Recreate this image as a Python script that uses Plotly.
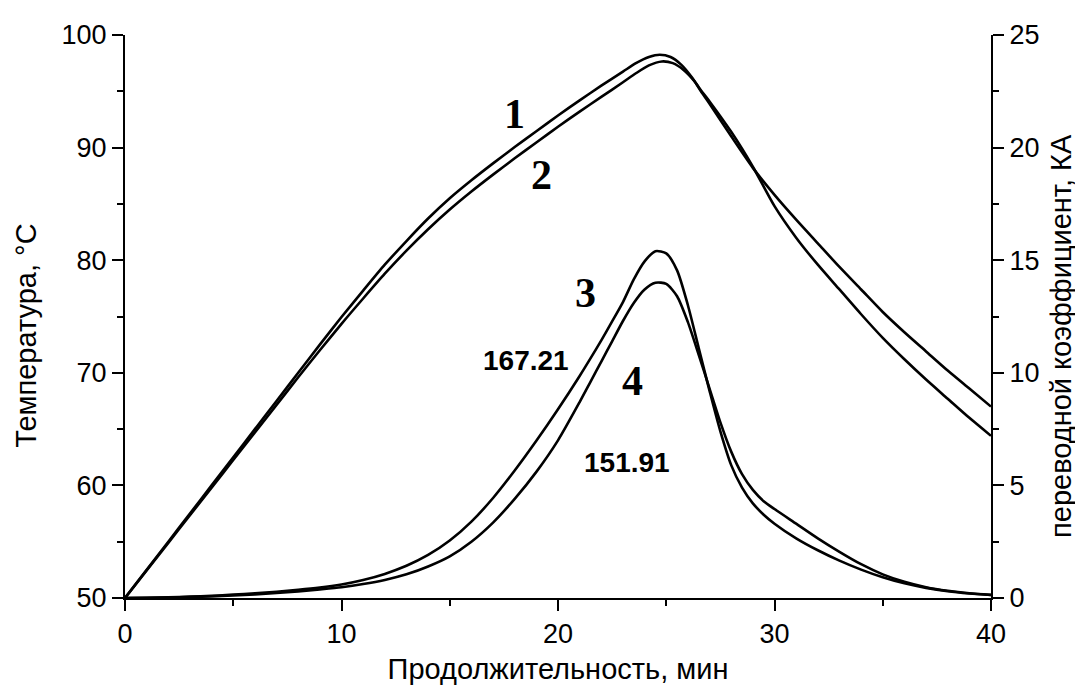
import plotly.graph_objects as go

# ---- data ----
t1 = [0, 1, 2, 3, 4, 5, 6, 7, 8, 9, 10, 11, 12, 13, 14, 15, 16, 17, 18, 19, 20, 21, 22, 23,
      23.6, 24.2, 24.7, 25.2, 25.7, 26.2, 26.6, 27, 28, 29, 30, 31, 32, 33, 34, 35, 36, 37, 38, 39, 40]
temp1 = [50.0, 52.5, 55.0, 57.5, 60.0, 62.5, 65.0, 67.5, 70.0, 72.5, 74.95, 77.3, 79.6, 81.7, 83.7,
         85.5, 87.1, 88.6, 90.05, 91.45, 92.85, 94.2, 95.5, 96.75, 97.5, 98.05, 98.25, 98.05, 97.35,
         96.2, 95.0, 93.9, 91.0, 88.2, 85.8, 83.6, 81.5, 79.4, 77.4, 75.4, 73.6, 71.9, 70.2, 68.6, 67.0]

t2 = [0, 1, 2, 3, 4, 5, 6, 7, 8, 9, 10, 11, 12, 13, 14, 15, 16, 17, 18, 19, 20, 21, 22, 23,
      23.6, 24.2, 24.8, 25.3, 25.8, 26.3, 26.6, 27, 28, 29, 30, 31, 32, 33, 34, 35, 36, 37, 38, 39, 40]
temp2 = [50.0, 52.45, 54.9, 57.35, 59.8, 62.25, 64.7, 67.15, 69.6, 72.0, 74.35, 76.6, 78.8, 80.85,
         82.75, 84.5, 86.1, 87.6, 89.05, 90.45, 91.85, 93.2, 94.5, 95.8, 96.6, 97.3, 97.65, 97.5,
         96.9, 95.9, 95.1, 94.1, 91.4, 88.3, 84.8, 82.0, 79.6, 77.4, 75.2, 73.1, 71.2, 69.4, 67.7,
         66.0, 64.4]

t3 = [0, 1, 2, 3, 4, 5, 6, 7, 8, 9, 10, 11, 12, 13, 14, 15, 16, 17, 18, 19, 20, 21, 21.5, 22,
      22.5, 23, 23.5, 24, 24.5, 25, 25.5, 26, 26.5, 27, 27.5, 28, 28.5, 29, 29.5, 30, 31, 32, 33,
      34, 35, 36, 37, 38, 39, 40]
coef3 = [0.0, 0.01, 0.03, 0.06, 0.1, 0.15, 0.21, 0.28, 0.36, 0.46, 0.6, 0.8, 1.07, 1.43, 1.91,
         2.55, 3.39, 4.44, 5.66, 6.98, 8.38, 9.86, 10.64, 11.44, 12.28, 13.14, 14.15, 14.95, 15.4,
         15.3, 14.55, 13.0, 11.1, 9.2, 7.4, 5.9, 4.9, 4.2, 3.7, 3.3, 2.65, 2.12, 1.66, 1.26,
         0.92, 0.65, 0.45, 0.3, 0.2, 0.13]

t4 = [0, 2, 4, 5, 6, 7, 8, 9, 10, 11, 12, 13, 14, 15, 16, 17, 18, 19, 20, 21, 21.5, 22, 22.5,
      23, 23.5, 24, 24.5, 25, 25.5, 26, 26.5, 27, 27.5, 28, 28.5, 29, 29.5, 30, 31, 32, 33, 34,
      35, 36, 37, 38, 39, 40]
coef4 = [0.0, 0.02, 0.07, 0.11, 0.16, 0.22, 0.29, 0.38, 0.48, 0.62, 0.8, 1.05, 1.4, 1.85, 2.5,
         3.35, 4.4, 5.6, 7.0, 8.7, 9.6, 10.5, 11.4, 12.3, 13.1, 13.7, 14.0, 13.95, 13.4, 12.25,
         10.8, 9.3, 7.8, 6.5, 5.5, 4.8, 4.3, 3.95, 3.3, 2.65, 2.05, 1.5, 1.05, 0.72, 0.48, 0.32,
         0.21, 0.14]

curve_labels = ["1", "2", "3", "4"]
label_x = [18.0, 19.26, 21.25, 23.45]
label_y = [93.0, 87.6, 77.1, 69.3]
value_labels = ["167.21", "151.91"]
value_x = [18.5, 23.2]
value_y = [71.1, 62.0]

x_title = "Продолжительность, мин"
y1_title = "Температура, °C"
y2_title = "переводной коэффициент, КА"

# ---- figure ----
SANS = "Liberation Sans, Arial, sans-serif"
SERIF = "Liberation Serif, Times New Roman, serif"
line = dict(color="black", width=2.6, shape="spline", smoothing=0.7)

fig = go.Figure()
fig.add_trace(go.Scatter(x=t1, y=temp1, mode="lines", line=line, name="1", yaxis="y"))
fig.add_trace(go.Scatter(x=t2, y=temp2, mode="lines", line=line, name="2", yaxis="y"))
fig.add_trace(go.Scatter(x=t3, y=coef3, mode="lines", line=line, name="3", yaxis="y2"))
fig.add_trace(go.Scatter(x=t4, y=coef4, mode="lines", line=line, name="4", yaxis="y2"))

axis_common = dict(
    showline=True, linecolor="black", linewidth=2, mirror=False,
    ticks="outside", ticklen=11, tickwidth=2, tickcolor="black",
    showgrid=False, zeroline=False,
    tickfont=dict(family=SANS, size=27, color="black"),
)

annotations = []
for txt, xx, yy in zip(curve_labels, label_x, label_y):
    annotations.append(dict(x=xx, y=yy, xref="x", yref="y", text="<b>%s</b>" % txt,
                            showarrow=False, font=dict(family=SERIF, size=42, color="black"),
                            xanchor="center", yanchor="middle"))
for txt, xx, yy in zip(value_labels, value_x, value_y):
    annotations.append(dict(x=xx, y=yy, xref="x", yref="y", text="<b>%s</b>" % txt,
                            showarrow=False, font=dict(family=SANS, size=28, color="black"),
                            xanchor="center", yanchor="middle"))
annotations.append(dict(x=-0.1143, y=0.466, xref="paper", yref="paper", text=y1_title,
                        textangle=-90, showarrow=False,
                        font=dict(family=SANS, size=29, color="black"),
                        xanchor="center", yanchor="middle"))
annotations.append(dict(x=1.080, y=0.466, xref="paper", yref="paper", text=y2_title,
                        textangle=-90, showarrow=False,
                        font=dict(family=SANS, size=29, color="black"),
                        xanchor="center", yanchor="middle"))

# the page body has an 8 px margin, so the figure is sized/offset to compensate
fig.update_layout(
    width=1075, height=686,
    margin=dict(l=117, r=92, t=17, b=96),
    paper_bgcolor="white", plot_bgcolor="white",
    showlegend=False,
    xaxis=dict(range=[0, 40], dtick=10, tick0=0,
               minor=dict(dtick=5, ticks="outside", ticklen=6, tickwidth=2, tickcolor="black"),
               title=dict(text=x_title, font=dict(family=SANS, size=29, color="black"), standoff=10),
               **axis_common),
    yaxis=dict(range=[50, 100], dtick=10, tick0=50,
               minor=dict(dtick=5, ticks="outside", ticklen=6, tickwidth=2, tickcolor="black"),
               **axis_common),
    yaxis2=dict(range=[0, 25], dtick=5, tick0=0, overlaying="y", side="right",
                minor=dict(dtick=2.5, ticks="outside", ticklen=6, tickwidth=2, tickcolor="black"),
                **axis_common),
    annotations=annotations,
)

fig.write_html("out.html")
